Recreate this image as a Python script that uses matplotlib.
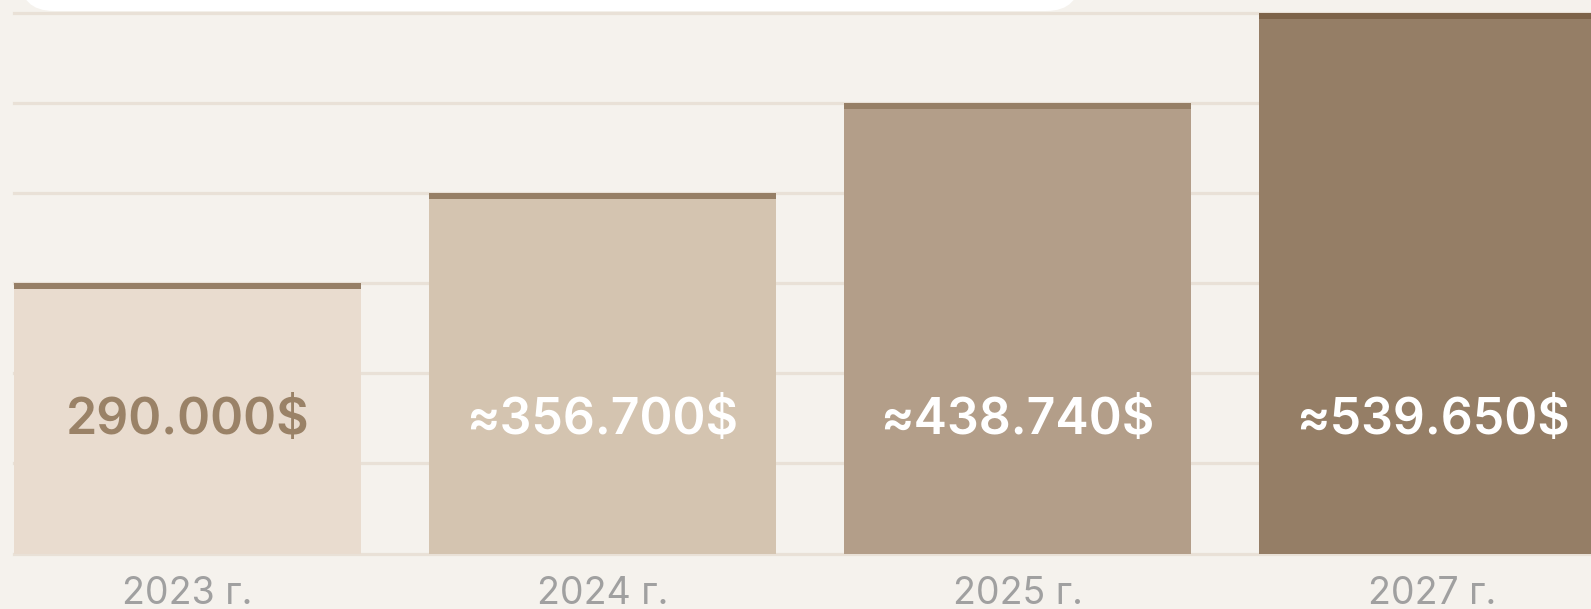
import matplotlib.pyplot as plt
from matplotlib.patches import FancyBboxPatch

# Data (bar heights are in grid steps, the chart is schematic)
years = ['2023 г.', '2024 г.', '2025 г.', '2027 г.']
levels = [3, 4, 5, 6]
value_labels = ['290.000$', '≈356.700$', '≈438.740$', '≈539.650$']

bar_colors = ['#e9dccf', '#d4c4b0', '#b39e89', '#957e66']
cap_colors = ['#967f66', '#967f66', '#967f66', '#7d6349']
label_colors = ['#9a8267', 'white', 'white', 'white']

bg = '#f5f2ed'
grid_color = '#e9e1d7'

W, H = 1591, 609
fig = plt.figure(figsize=(W / 100, H / 100), dpi=100, facecolor=bg)

# axes placed in pixels: left edge at first bar, grid from y=12.5 to y=553.5
left, top, bottom = 14, 12.5, 553.5
ax = fig.add_axes([left / W, (H - bottom) / H, 1 - left / W, (bottom - top) / H])
ax.set_facecolor(bg)

px_per_step = (bottom - top) / 6
bar_w = 347 / 415
ax.set_xlim(-bar_w / 2, -bar_w / 2 + (W - left) / 415)
ax.set_ylim(0, 6)

# Grid lines behind the bars
for g in range(7):
    ax.axhline(g, color=grid_color, lw=2.3, zorder=0, clip_on=False)

x = range(len(years))
ax.bar(x, levels, width=bar_w, color=bar_colors, zorder=2)

# Darker strip on top of every bar
cap = 6 / px_per_step
ax.bar(x, [cap] * len(levels), bottom=[v - cap for v in levels], width=bar_w,
       color=cap_colors, zorder=3)

# Value labels inside bars
for i, txt in enumerate(value_labels):
    ax.text(i, 1.48, txt, ha='center', va='center', fontsize=36,
            fontweight='semibold', family='Inter', color=label_colors[i], zorder=4)

# Year labels under bars
ax.set_xticks(list(x), years)
ax.tick_params(axis='x', length=0, pad=16, labelsize=27, labelcolor='#a0a0a0')
for lab in ax.get_xticklabels():
    lab.set_family('Inter')
ax.set_yticks([])
for s in ax.spines.values():
    s.set_visible(False)

# White card edge peeking in at the top
card = FancyBboxPatch((20, H - 11), 1060, 80, boxstyle='round,pad=0,rounding_size=34',
                      transform=None, facecolor='white', edgecolor='none', zorder=5)
fig.patches.append(card)

fig.savefig('out.png', dpi=100, facecolor=bg)
